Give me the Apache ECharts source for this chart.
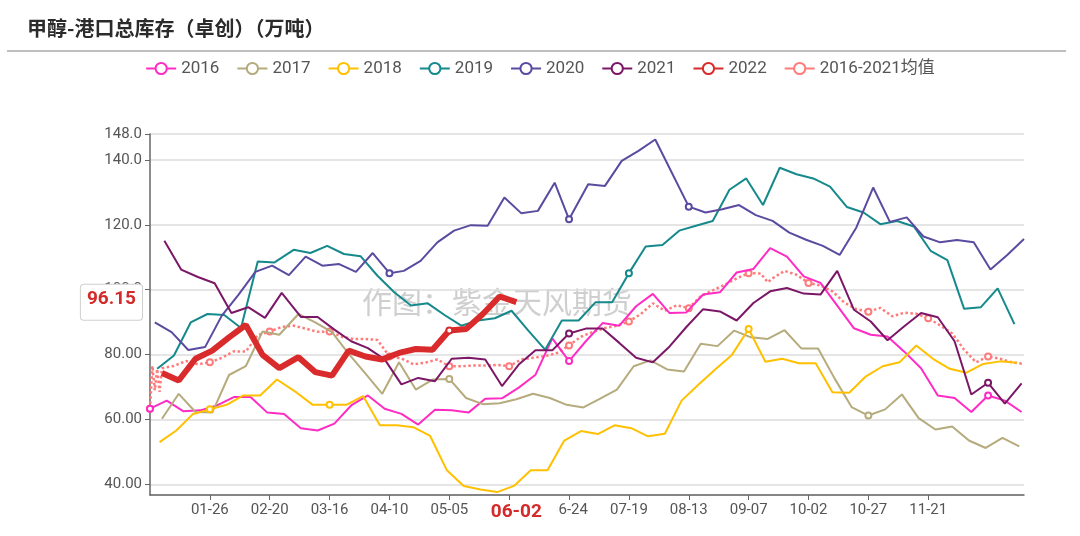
<!DOCTYPE html>
<html><head><meta charset="utf-8">
<script src="https://cdn.jsdelivr.net/npm/echarts@6/dist/echarts.min.js"></script>
<style>html,body{margin:0;padding:0;background:#fff}#c{width:1080px;height:536px}</style>
</head><body><div id="c"></div>
<script>
const titleText = '甲醇-港口总库存（卓创）（万吨）';
const watermarkText = '作图：紫金天风期货';
const seriesNames = ['2016', '2017', '2018', '2019', '2020', '2021', '2022', '2016-2021均值'];
const seriesColors = ['#ff2cc4', '#b5ab7d', '#ffc000', '#15898c', '#5a4aa0', '#7b1766', '#d92b2b', '#ff7b7b'];

// weekly series: first date of each year, then one value per week
const start2016 = [2016, 1, 1];
const v2016 = [63.3, 65.8, 62.5, 62.8, 64.3, 66.9, 66.9, 62.1, 61.7, 57.3, 56.6, 58.7, 64.3, 67.4, 63.3, 61.7, 58.4, 63.0, 62.8, 62.1, 66.4, 66.5, 69.8, 73.8, 85.0, 78.0, 84.1, 89.7, 88.9, 94.9, 98.7, 92.8, 93.0, 98.5, 99.2, 105.3, 106.4, 112.8, 110.2, 104.1, 102.1, 95.1, 88.1, 86.1, 85.6, 80.9, 75.8, 67.4, 66.6, 62.3, 67.4, 65.8, 62.3];
const start2017 = [2017, 1, 6];
const v2017 = [60.2, 67.9, 62.3, 62.1, 73.7, 76.4, 87.1, 86.1, 92.5, 89.9, 86.9, 80.2, 74.1, 67.9, 77.6, 69.2, 72.3, 72.5, 66.6, 64.7, 65.0, 66.2, 67.9, 66.6, 64.5, 63.7, 66.4, 69.2, 76.4, 78.2, 75.4, 74.8, 83.3, 82.6, 87.4, 85.3, 84.8, 87.5, 81.9, 81.9, 72.5, 63.8, 61.2, 63.1, 67.7, 60.4, 56.9, 57.8, 53.5, 51.2, 54.3, 51.7];
const start2018 = [2018, 1, 5];
const v2018 = [53.0, 56.6, 61.7, 63.1, 64.5, 67.4, 67.4, 72.3, 68.4, 64.5, 64.5, 64.5, 67.2, 58.2, 58.2, 57.6, 54.9, 44.3, 39.5, 38.4, 37.6, 39.5, 44.3, 44.3, 53.5, 56.4, 55.5, 58.2, 57.3, 54.8, 55.6, 65.8, 70.7, 75.4, 79.9, 87.9, 77.8, 78.7, 77.3, 77.3, 68.4, 68.2, 73.3, 76.4, 77.6, 82.8, 78.7, 75.6, 74.4, 77.1, 77.9, 77.5];
const start2019 = [2019, 1, 4];
const v2019 = [75.6, 79.7, 89.9, 92.5, 92.2, 88.2, 108.7, 108.4, 112.3, 111.3, 113.5, 111.0, 110.3, 104.3, 99.2, 95.1, 95.8, 92.2, 88.9, 90.5, 91.2, 93.5, 87.4, 81.5, 90.5, 90.5, 96.1, 96.1, 105.1, 113.3, 113.8, 118.2, 119.7, 121.2, 130.8, 134.3, 126.1, 137.6, 135.6, 134.3, 131.8, 125.5, 123.8, 120.2, 121.2, 119.5, 112.0, 109.1, 94.1, 94.6, 100.4, 89.4];
const start2021 = [2021, 1, 7];
const v2021 = [115.1, 106.2, 103.9, 102.0, 92.8, 94.6, 91.3, 99.0, 91.6, 91.6, 87.7, 84.1, 82.0, 78.5, 70.8, 72.8, 71.8, 78.7, 79.0, 78.5, 70.3, 76.9, 81.3, 81.3, 86.5, 88.0, 88.0, 83.6, 79.0, 77.6, 82.5, 88.5, 94.0, 93.3, 90.5, 95.9, 99.5, 100.5, 98.8, 98.5, 105.8, 93.8, 90.2, 84.4, 88.7, 92.8, 91.5, 84.1, 67.7, 71.3, 64.9, 71.1];
const start2022 = [2022, 1, 6];
const v2022 = [74.3, 72.0, 78.7, 81.2, 85.3, 89.1, 79.9, 75.8, 79.2, 74.6, 73.5, 81.2, 79.4, 78.5, 80.5, 81.7, 81.5, 87.4, 87.9, 92.5, 97.9, 96.15];

// irregular series: day-of-year positions (0 = 01-01, leap-year calendar)
const days2020 = [2, 9, 16, 23, 30, 37, 44, 51, 58, 65, 72, 79, 86, 93, 100, 106, 113, 120, 127, 134, 141, 148, 155, 162, 169, 175, 183, 190, 197, 204, 211, 225, 232, 239, 246, 253, 260, 267, 274, 281, 288, 295, 302, 309, 316, 323, 330, 337, 344, 351, 358, 365];
const v2020 = [89.9, 86.9, 81.4, 82.3, 92.0, 98.5, 105.5, 107.4, 104.5, 110.2, 107.4, 107.9, 105.5, 111.3, 105.1, 105.8, 108.9, 114.6, 118.2, 119.9, 119.7, 128.4, 123.6, 124.3, 133.0, 121.7, 132.5, 132.0, 139.7, 142.8, 146.3, 125.6, 123.8, 124.8, 126.1, 123.0, 121.2, 117.6, 115.4, 113.5, 110.7, 119.2, 131.5, 120.9, 122.3, 116.4, 114.6, 115.3, 114.6, 106.2, 110.7, 115.6];
const daysAvg = [0, 1, 2, 3, 4, 5, 10, 15, 20, 25, 30, 35, 40, 45, 50, 55, 60, 65, 70, 75, 80, 85, 90, 95, 100, 105, 110, 115, 120, 125, 130, 135, 140, 145, 150, 155, 160, 165, 170, 175, 180, 185, 190, 195, 200, 205, 210, 215, 220, 225, 230, 235, 240, 245, 250, 255, 258, 260, 265, 270, 275, 280, 285, 290, 295, 300, 305, 310, 315, 320, 325, 330, 335, 340, 345, 350, 355, 360, 365];
const vAvg = [63.3, 76.5, 69.0, 75.5, 68.5, 75.8, 76.5, 78.0, 77.0, 77.6, 79.0, 81.0, 80.9, 86.0, 87.1, 88.5, 88.9, 88.0, 87.0, 87.1, 85.5, 84.8, 84.8, 84.5, 79.4, 78.8, 77.0, 77.5, 78.5, 76.4, 76.4, 76.6, 76.6, 76.8, 76.4, 78.5, 79.0, 79.5, 80.5, 82.8, 85.5, 87.0, 88.2, 88.9, 90.2, 92.5, 95.8, 93.5, 95.2, 94.3, 98.0, 99.8, 101.5, 103.5, 105.1, 105.0, 102.3, 103.5, 105.8, 104.6, 102.1, 101.3, 99.5, 96.0, 94.0, 93.2, 94.4, 91.8, 92.9, 92.6, 91.2, 89.0, 86.5, 81.5, 77.6, 79.4, 78.7, 77.6, 77.1];

const pointerDate = '06-02';

// category axis: every day of a leap year, MM-DD
const pad = n => (n < 10 ? '0' : '') + n;
const mmdd = d => pad(d.getUTCMonth() + 1) + '-' + pad(d.getUTCDate());
const categories = [];
for (let t = Date.UTC(2020, 0, 1); new Date(t).getUTCFullYear() === 2020; t += 86400000) categories.push(mmdd(new Date(t)));

function weeklyPairs(start, values) {
  const t0 = Date.UTC(start[0], start[1] - 1, start[2]);
  return values.map((v, i) => [mmdd(new Date(t0 + i * 7 * 86400000)), v]);
}
function dayPairs(days, values) { return values.map((v, i) => [categories[days[i]], v]); }

const seriesData = [
  weeklyPairs(start2016, v2016), weeklyPairs(start2017, v2017), weeklyPairs(start2018, v2018),
  weeklyPairs(start2019, v2019), dayPairs(days2020, v2020), weeklyPairs(start2021, v2021),
  weeklyPairs(start2022, v2022), dayPairs(daysAvg, vAvg)
];
const lastValue = v2022[v2022.length - 1];

const chart = echarts.init(document.getElementById('c'), null, { renderer: 'canvas' });
const font = 'Roboto, "Noto Sans CJK SC", sans-serif';

const series = seriesNames.map((name, i) => {
  const s = {
    name, type: 'line', data: seriesData[i], symbol: 'emptyCircle', symbolSize: 6,
    connectNulls: true, color: seriesColors[i],
    lineStyle: { width: 2, color: seriesColors[i] },
    itemStyle: { color: seriesColors[i] }, z: 3
  };
  if (name === '2022') { s.lineStyle.width = 6; s.z = 10; }
  if (i === 7) { s.lineStyle.type = 'dotted'; s.lineStyle.width = 2.5; s.z = 2; }
  return s;
});

const legendData = seriesNames.map((name, i) => i === 7 ? { name, lineStyle: { type: 'solid' } } : { name });

chart.setOption({
  animation: false,
  backgroundColor: '#fff',
  textStyle: { fontFamily: font },
  axisPointer: { triggerOn: 'none' },
  legend: {
    data: legendData, left: 'center', top: 55, itemWidth: 30, itemHeight: 14, itemGap: 17,
    textStyle: { fontSize: 17, color: '#555', fontFamily: font }
  },
  grid: { left: 150, right: 56, top: 134, bottom: 41, containLabel: false },
  xAxis: {
    type: 'category', data: categories, boundaryGap: false,
    axisLine: { lineStyle: { color: '#666', width: 1.5 } },
    axisTick: { length: 5, lineStyle: { color: '#666' }, interval: (i) => i > 0 && i % 25 === 0 && i < 350 },
    axisLabel: {
      interval: 24, fontSize: 15, color: '#555', margin: 8,
      formatter: (v, i) => (i === 0 || i === 350) ? '' : v
    },
    splitLine: { show: false },
    axisPointer: {
      show: true, status: 'show', value: categories.indexOf(pointerDate), triggerTooltip: false,
      type: 'line', lineStyle: { color: 'rgba(0,0,0,0)', width: 0 },
      label: { show: true, color: '#d42a2a', fontWeight: 'bold', fontSize: 19, backgroundColor: '#fff', padding: [3, 16, 3, 16], margin: 5, shadowBlur: 0 }
    }
  },
  yAxis: {
    type: 'value', min: 36.7, max: 148,
    axisLine: { show: true, lineStyle: { color: '#666', width: 1.5 } },
    axisTick: { show: true, length: 5, lineStyle: { color: '#666' } },
    axisLabel: { fontSize: 15, color: '#555', showMinLabel: false, formatter: v => Number(v).toPrecision(4) },
    splitLine: { lineStyle: { color: '#dcdcdc', width: 1.5 } },
    axisPointer: {
      show: true, status: 'show', value: lastValue, triggerTooltip: false,
      type: 'line', lineStyle: { color: 'rgba(0,0,0,0)', width: 0 },
      label: { show: true, formatter: p => Number(p.value).toFixed(2), color: '#d42a2a', fontWeight: 'bold', fontSize: 19, backgroundColor: '#fff', borderColor: '#cfcfcf', borderWidth: 1, padding: [5, 6, 11, 6], margin: 8, shadowBlur: 0 }
    }
  },
  graphic: [
    { type: 'text', left: 27, top: 18, z: 10, style: { text: titleText, font: 'bold 20px "Noto Sans CJK SC", sans-serif', fill: '#2b2b2b' } },
    { type: 'line', z: 10, shape: { x1: 7, y1: 51, x2: 1066, y2: 51 }, style: { stroke: '#a8a8a8', lineWidth: 1.5 } },
    { type: 'text', left: 362, top: 287, z: 0, style: { text: watermarkText, font: '30px "Noto Sans CJK SC", sans-serif', fill: 'rgba(160,160,160,0.5)' } }
  ],
  series
});
</script></body></html>
